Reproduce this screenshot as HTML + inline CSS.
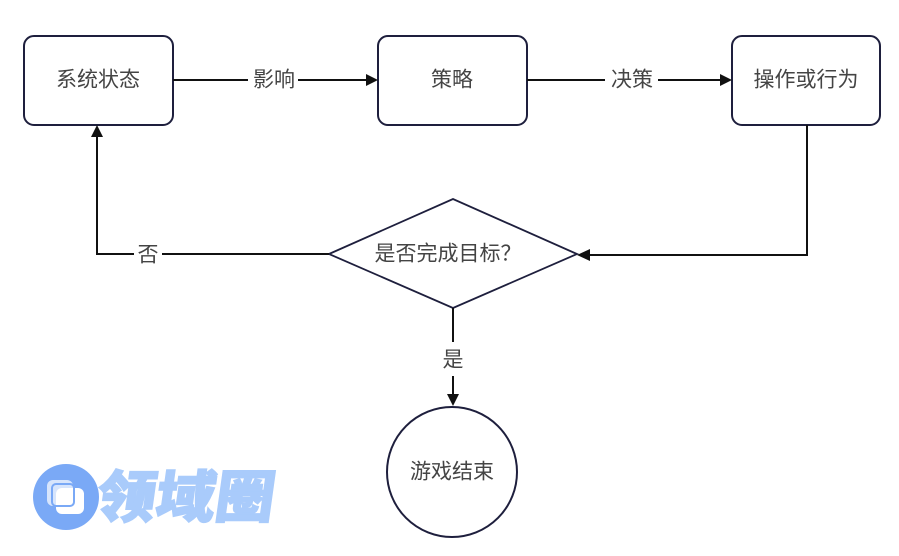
<!DOCTYPE html>
<html><head><meta charset="utf-8"><style>
html,body{margin:0;padding:0;background:#fff;}
svg{display:block;}
text{font-family:"Liberation Sans","Noto Sans CJK SC",sans-serif;}
</style></head><body>
<svg width="899" height="556" viewBox="0 0 899 556" xmlns="http://www.w3.org/2000/svg">
<rect width="899" height="556" fill="#fff"/>
<g fill="none" stroke="#1e1f3d" stroke-width="2">
<rect x="24" y="36" width="149" height="89" rx="10"/>
<rect x="378" y="36" width="149" height="89" rx="10"/>
<rect x="732" y="36" width="148" height="89" rx="10"/>
<polygon points="329,254 453,199 577,254 453,308" stroke-width="1.8"/>
<circle cx="452" cy="472" r="65"/>
</g>
<g stroke="#111" stroke-width="2" fill="none">
<line x1="173" y1="80" x2="248" y2="80"/>
<line x1="298" y1="80" x2="368" y2="80"/>
<line x1="527" y1="80" x2="605" y2="80"/>
<line x1="658" y1="80" x2="722" y2="80"/>
<polyline points="807,125 807,255 588,255"/>
<polyline points="329,254 162,254"/>
<polyline points="134,254 97,254 97,134"/>
<line x1="453" y1="308" x2="453" y2="342"/>
<line x1="453" y1="376" x2="453" y2="396"/>
</g>
<g fill="#111">
<polygon points="378,80 366,74 366,86"/>
<polygon points="732,80 720,74 720,86"/>
<polygon points="577,255 590,249 590,261"/>
<polygon points="97,125 91,137 103,137"/>
<polygon points="453,406 447,394 459,394"/>
</g>
<g fill="#444" font-size="21" text-anchor="middle" dominant-baseline="central">
<text x="98" y="80">系统状态</text>
<text x="452" y="80">策略</text>
<text x="806" y="80">操作或行为</text>
<text x="274" y="80">影响</text>
<text x="632" y="80">决策</text>
<text x="448" y="254" textLength="147" lengthAdjust="spacing">是否完成目标？</text>
<text x="148" y="255">否</text>
<text x="453" y="360">是</text>
<text x="452" y="472">游戏结束</text>
</g>
<g>
<circle cx="66" cy="497" r="33" fill="#7aa9f6"/>
<rect x="47" y="480" width="26" height="26" rx="6" fill="#fff" opacity="0.7"/>
<rect x="56" y="488" width="28" height="26" rx="6" fill="#fff"/>
<rect x="52" y="484" width="22" height="22" rx="4" fill="none" stroke="#7aa9f6" stroke-width="2"/>
<text x="97" y="517" font-size="56" font-weight="900" fill="#a9cbfb" stroke="#a9cbfb" stroke-width="1.5" transform="skewX(-8) translate(70,0)" textLength="178" lengthAdjust="spacingAndGlyphs">领域圈</text>
</g>
</svg>
</body></html>
